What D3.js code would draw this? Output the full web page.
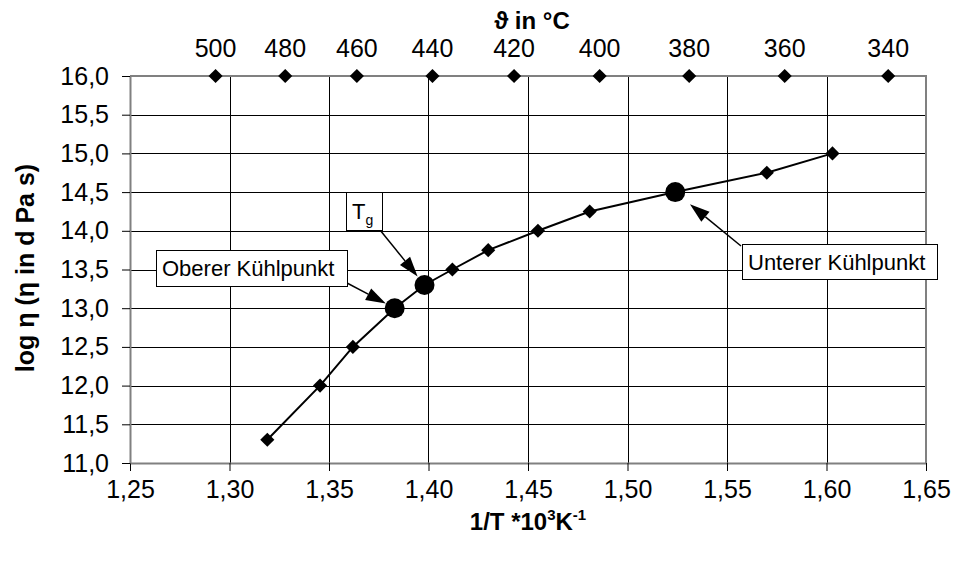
<!DOCTYPE html>
<html>
<head>
<meta charset="utf-8">
<script src="https://cdn.jsdelivr.net/npm/d3@7"></script>
<style>
  html, body { margin: 0; padding: 0; background: #fff; }
  svg { display: block; font-family: "Liberation Sans", Arial, sans-serif; }
</style>
</head>
<body>
<svg id="chart" width="954" height="565"></svg>
<script>
// Viscosity curve of glass: reciprocal temperature vs. log viscosity
const invT   = [1.319, 1.3455, 1.362, 1.383, 1.398, 1.412, 1.430, 1.455, 1.481, 1.524, 1.570, 1.603];
const logEta = [11.3, 12.0, 12.5, 13.0, 13.3, 13.5, 13.75, 14.0, 14.25, 14.5, 14.75, 15.0];
// indices of the characteristic points (drawn as large dots)
const keyPoints = [3, 4, 9];

// Secondary temperature scale placed along the top edge
const tempLabels = ["500", "480", "460", "440", "420", "400", "380", "360", "340"];
const tempInvT   = [1.293, 1.328, 1.364, 1.402, 1.443, 1.486, 1.531, 1.579, 1.631];
const tempRowLevel = 16.0;

// Axis ticks
const xTicks = [1.25, 1.30, 1.35, 1.40, 1.45, 1.50, 1.55, 1.60, 1.65];
const yTicks = [11.0, 11.5, 12.0, 12.5, 13.0, 13.5, 14.0, 14.5, 15.0, 15.5, 16.0];

// Call-out boxes: [left, top, width, height], arrow start, gap to the dot
const callouts = [
  { label: "Oberer Kühlpunkt", point: 3, box: [156, 250, 191, 36], from: [347, 283], gap: 10 },
  { label: "T", sub: "g", point: 4, box: [346, 192, 36, 38], from: [380, 230], gap: 11 },
  { label: "Unterer Kühlpunkt", point: 9, box: [742, 244, 195, 35], from: [741, 246], gap: 19 }
];

const svg = d3.select("#chart");
const plot = { left: 130, right: 926, top: 76, bottom: 463 };

const x = d3.scaleLinear().domain([1.25, 1.65]).range([plot.left, plot.right]);
const y = d3.scaleLinear().domain([11, 16]).range([plot.bottom, plot.top]);
const fmt = d => d.toFixed(2).replace(".", ",");
const fmtY = d => d.toFixed(1).replace(".", ",");

// Gridlines
const grid = svg.append("g").attr("stroke", "#000").attr("stroke-width", 1).attr("shape-rendering", "crispEdges");
grid.selectAll("line.h").data(yTicks.slice(1, -1)).join("line")
  .attr("x1", plot.left).attr("x2", plot.right)
  .attr("y1", d => Math.round(y(d)) + 0.5).attr("y2", d => Math.round(y(d)) + 0.5);
grid.selectAll("line.v").data(xTicks.slice(1, -1)).join("line")
  .attr("y1", plot.top).attr("y2", plot.bottom)
  .attr("x1", d => Math.round(x(d)) + 0.5).attr("x2", d => Math.round(x(d)) + 0.5);

// Plot frame (top and right edges)
svg.append("path")
  .attr("d", `M${plot.left},${plot.top}H${plot.right}V${plot.bottom}`)
  .attr("fill", "none").attr("stroke", "#808080").attr("stroke-width", 2);

// Axes
const xAxis = svg.append("g").attr("transform", `translate(0,${plot.bottom})`)
  .call(d3.axisBottom(x).tickValues(xTicks).tickFormat(fmt).tickSize(8).tickPadding(9).tickSizeOuter(0));
const yAxis = svg.append("g").attr("transform", `translate(${plot.left},0)`)
  .call(d3.axisLeft(y).tickValues(yTicks).tickFormat(fmtY).tickSize(8).tickPadding(13).tickSizeOuter(0));
[xAxis, yAxis].forEach(a => {
  a.select(".domain").attr("stroke", "#808080").attr("stroke-width", 2);
  a.selectAll(".tick line").attr("stroke", "#000");
  a.selectAll(".tick text").attr("font-size", 25).attr("fill", "#000")
    .attr("font-family", "'Liberation Sans', Arial, sans-serif");
});

// Axis titles
const xt = svg.append("text").attr("x", 528).attr("y", 530).attr("text-anchor", "middle")
  .attr("font-size", 24).attr("font-weight", "bold");
xt.append("tspan").text("1/T *10");
xt.append("tspan").text("3").attr("font-size", 15).attr("dy", -10);
xt.append("tspan").text("K").attr("dy", 10);
xt.append("tspan").text("-1").attr("font-size", 15).attr("dy", -10);

svg.append("text")
  .attr("transform", "translate(34,268) rotate(-90)")
  .attr("text-anchor", "middle").attr("font-size", 25).attr("font-weight", "bold")
  .text("log η (η in d Pa s)");

svg.append("text").attr("x", 532).attr("y", 29).attr("text-anchor", "middle")
  .attr("font-size", 24).attr("font-weight", "bold").text("ϑ in °C");

// Diamond marker (square turned 45°)
const diamond = d3.symbol(d3.symbolSquare, 100);

// Temperature scale markers and labels
svg.append("g").selectAll("path").data(tempInvT).join("path")
  .attr("d", diamond)
  .attr("transform", d => `translate(${x(d)},${y(tempRowLevel)}) rotate(45)`)
  .attr("fill", "#000");
svg.append("g").selectAll("text").data(tempLabels).join("text")
  .attr("x", (d, i) => x(tempInvT[i])).attr("y", 57)
  .attr("text-anchor", "middle").attr("font-size", 25).text(d => d);

// Viscosity curve
const pts = invT.map((v, i) => [v, logEta[i]]);
svg.append("path").datum(pts)
  .attr("d", d3.line().x(d => x(d[0])).y(d => y(d[1])))
  .attr("fill", "none").attr("stroke", "#000").attr("stroke-width", 2);

svg.append("g").selectAll("path").data(pts.filter((d, i) => !keyPoints.includes(i))).join("path")
  .attr("d", diamond)
  .attr("transform", d => `translate(${x(d[0])},${y(d[1])}) rotate(45)`)
  .attr("fill", "#000");
svg.append("g").selectAll("circle").data(keyPoints.map(i => pts[i])).join("circle")
  .attr("cx", d => x(d[0])).attr("cy", d => y(d[1])).attr("r", 10).attr("fill", "#000");

// Call-outs with arrows
const headLen = 20, headHalf = 6.5;
callouts.forEach(c => {
  const cx = x(invT[c.point]), cy = y(logEta[c.point]);
  const [fx, fy] = c.from;
  const dx = cx - fx, dy = cy - fy, len = Math.hypot(dx, dy);
  const ux = dx / len, uy = dy / len;
  const tx = cx - ux * c.gap, ty = cy - uy * c.gap;
  const bx = tx - ux * headLen, by = ty - uy * headLen;
  svg.append("line").attr("x1", fx).attr("y1", fy).attr("x2", bx).attr("y2", by)
    .attr("stroke", "#000").attr("stroke-width", 1.5);
  svg.append("path")
    .attr("d", `M${tx},${ty}L${bx - uy * headHalf},${by + ux * headHalf}L${bx + uy * headHalf},${by - ux * headHalf}Z`)
    .attr("fill", "#000");

  const [bl, bt, bw, bh] = c.box;
  svg.append("rect").attr("x", bl + 0.5).attr("y", bt + 0.5).attr("width", bw).attr("height", bh)
    .attr("fill", "#fff").attr("stroke", "#000").attr("stroke-width", 1);
  const t = svg.append("text").attr("x", bl + 6).attr("y", bt + bh / 2 + 8).attr("font-size", 22);
  t.append("tspan").text(c.label);
  if (c.sub) t.append("tspan").text(c.sub).attr("font-size", 14).attr("dy", 6);
});
</script>
</body>
</html>
